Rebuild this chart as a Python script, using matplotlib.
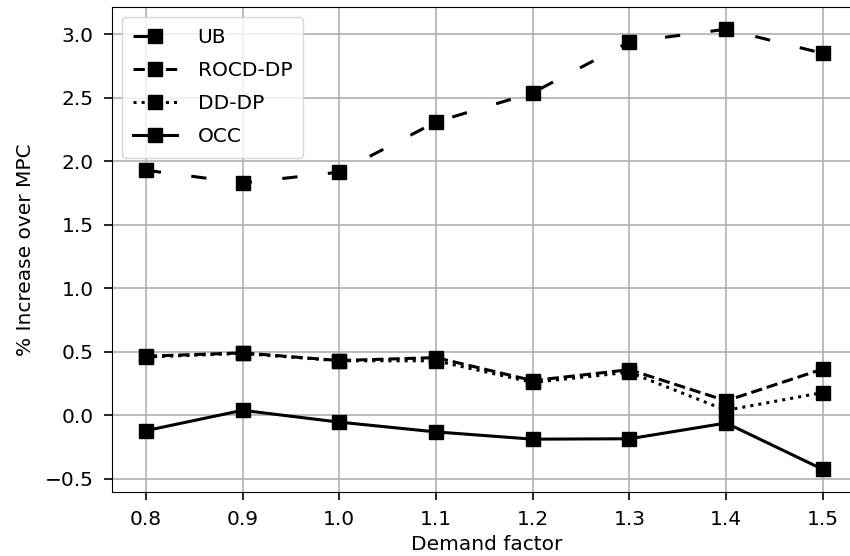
import matplotlib
matplotlib.use('Agg')
import matplotlib.pyplot as plt

# Demand factors on the x axis
demand = [0.8, 0.9, 1.0, 1.1, 1.2, 1.3, 1.4, 1.5]

# % increase over MPC for each method
ub = [1.93, 1.83, 1.915, 2.31, 2.54, 2.94, 3.04, 2.85]
rocd_dp = [0.466, 0.492, 0.432, 0.455, 0.274, 0.36, 0.115, 0.365]
dd_dp = [0.46, 0.488, 0.43, 0.43, 0.26, 0.34, 0.04, 0.18]
occ = [-0.12, 0.04, -0.053, -0.13, -0.187, -0.184, -0.06, -0.425]

plt.rcParams['font.size'] = 14.5

fig = plt.figure(figsize=(8.5, 5.56), dpi=100)
ax = fig.add_axes([112 / 850, (556 - 492) / 556, (862 - 112) / 850, (492 - 7) / 556])

style = dict(color='black', marker='s', markersize=10, linewidth=2.2)
ax.plot(demand, ub, linestyle=(0, (5, 10)), label='UB', **style)
ax.plot(demand, rocd_dp, linestyle='--', label='ROCD-DP', **style)
ax.plot(demand, dd_dp, linestyle=':', label='DD-DP', **style)
ax.plot(demand, occ, linestyle='-', label='OCC', **style)

ax.set_xticks(demand)
ax.set_yticks([-0.5, 0.0, 0.5, 1.0, 1.5, 2.0, 2.5, 3.0])
ax.set_xlim(0.765, 1.5405)
ax.set_ylim(-0.603, 3.215)
ax.tick_params(length=5.8, width=1.2, pad=7.5)
ax.grid(True, color='#b0b0b0', linewidth=1.2)
ax.set_xlabel('Demand factor', labelpad=4)
ax.set_ylabel('% Increase over MPC', labelpad=7)
ax.legend(loc='upper left', handlelength=2.2, labelspacing=0.7,
          borderpad=0.55, handletextpad=1.0)

fig.savefig('out.png', dpi=100)
